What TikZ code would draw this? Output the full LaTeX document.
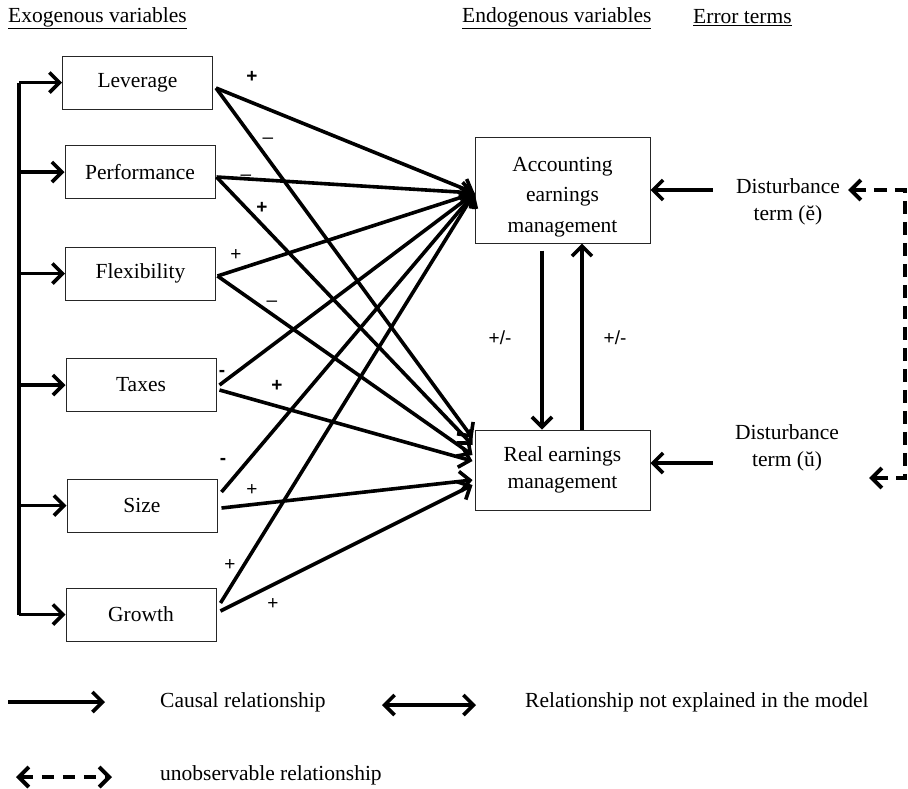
\documentclass[tikz,border=0pt]{standalone}
\usepackage{fontspec}
\setmainfont{Liberation Serif}
\newfontfamily\signfont{Liberation Sans}
\usetikzlibrary{arrows.meta,calc}
\begin{document}
\begin{tikzpicture}[x=1pt,y=-1pt,
  box/.style={draw=black!85,line width=1pt,minimum width=150pt,minimum height=53pt,inner sep=0pt,font=\fontsize{21.5}{27}\selectfont},
  ebox/.style={draw=black!85,line width=1pt,minimum width=175pt,inner sep=0pt,align=center},
  txt/.style={font=\fontsize{21.5}{27}\selectfont,inner sep=0pt,align=center},
  sgn/.style={font=\signfont\fontsize{19}{19}\selectfont,inner sep=0pt},
  tipb/.tip={Straight Barb[length=10pt,width=20pt]},
  conn/.style={line width=3.6pt,-tipb},
  plain/.style={line width=3.6pt},
  dconn/.style={line width=4pt,dash pattern=on 13pt off 8pt,tipb-tipb},
  dbl/.style={line width=3.6pt,tipb-tipb}
]
\useasboundingbox (0,0) rectangle (908,788);

% headers
\node[txt,anchor=west] (h1) at (8,18) {\underline{Exogenous variables}};
\node[txt,anchor=west] (h2) at (462,18) {\underline{Endogenous variables}};
\node[txt,anchor=west] (h3) at (693,18) {\underline{Error terms}};

% exogenous boxes
\node[box] (lev)  at (137.5,82.5) {Leverage};
\node[box] (perf) at (140,172) {Performance};
\node[box] (flex) at (140.5,273.5) {Flexibility};
\node[box] (tax)  at (141,385) {Taxes};
\node[box] (size) at (142,505.5) {Size};
\node[box] (gro)  at (141,614.5) {Growth};

% endogenous boxes
\node[ebox,minimum height=106pt,font=\fontsize{21.5}{30.5}\selectfont] (acc) at (562.5,190) {\rule{0pt}{28pt}Accounting\\earnings\\management};
\node[ebox,minimum height=80pt,font=\fontsize{21.5}{27.5}\selectfont] (real) at (562.5,470) {Real earnings\\management};

% error terms
\node[txt] (de) at (788,202) {Disturbance\\term (ĕ)};
\node[txt] (du) at (787,448) {Disturbance\\term (ŭ)};

% bus on the left
\coordinate (bus) at (19,0);
\draw[plain] (bus |- lev.west) -- (bus |- gro.west);
\foreach \n in {lev,perf,flex,tax,size,gro}{
  \draw[conn] (bus |- \n.west) -- (\n.west);
}

% causal paths to accounting earnings management
\draw[conn] ($(lev.east)+(3,5.5)$)  -- ($(acc.west)+(0,3)$);
\draw[conn] ($(perf.east)+(1,5)$)   -- ($(acc.west)+(0,3)$);
\draw[conn] ($(flex.east)+(1.5,2.5)$) -- ($(acc.west)+(0,3)$);
\draw[conn] ($(tax.east)+(3,0)$)    -- ($(acc.west)+(0,3)$);
\draw[conn] ($(size.east)+(4,-13.5)$) -- ($(acc.west)+(0,3)$);
\draw[conn] ($(gro.east)+(4,-11.5)$) -- ($(acc.west)+(0,3)$);

% causal paths to real earnings management
\draw[conn] ($(lev.east)+(3,5.5)$)  -- ($(real.west)+(-2,-32)$);
\draw[conn] ($(perf.east)+(1,5)$)   -- ($(real.west)+(-2,-25)$);
\draw[conn] ($(flex.east)+(1.5,2.5)$) -- ($(real.west)+(-2,-15)$);
\draw[conn] ($(tax.east)+(3,5)$)    -- ($(real.west)+(-2,-9)$);
\draw[conn] ($(size.east)+(4,2.5)$) -- ($(real.west)+(-2,10)$);
\draw[conn] ($(gro.east)+(4,-3.5)$) -- ($(real.west)+(-2,15)$);

% signs
\node[sgn] (s1)  at (252,77)  {\textbf{+}};
\node[sgn] (s2)  at (268,141) {–};
\node[sgn] (s3)  at (246,178) {–};
\node[sgn] (s4)  at (262,208) {\textbf{+}};
\node[sgn] (s5)  at (236,255) {+};
\node[sgn] (s6)  at (272,304) {–};
\node[sgn] (s7)  at (222,373) {\textbf{-}};
\node[sgn] (s8)  at (277,386) {\textbf{+}};
\node[sgn] (s9)  at (223,461) {\textbf{-}};
\node[sgn] (s10) at (252,490) {+};
\node[sgn] (s11) at (230,565) {+};
\node[sgn] (s12) at (273,604) {+};

% reciprocal paths
\draw[conn] ($(acc.south)+(-20.5,7)$) -- ($(real.north)+(-20.5,0)$);
\draw[conn] ($(real.north)+(19.5,0)$) -- ($(acc.south)+(19.5,0)$);
\node[sgn] (pm1) at (500,338) {+/-};
\node[sgn] (pm2) at (615,338) {+/-};

% disturbance arrows
\draw[conn] ($(acc.east)+(62,0)$) -- (acc.east);
\draw[conn] ($(real.east)+(62,-7)$) -- ($(real.east)+(0,-7)$);

% unobservable relationship
\coordinate (dt) at (848,190);
\coordinate (dc1) at (905,190);
\coordinate (dc2) at (905,478);
\coordinate (db) at (869,478);
\draw[dconn] (dt) -- (dc1) -- (dc2) -- (db);

% legend
\coordinate (la1) at (8,702);
\coordinate (la2) at (105,702);
\draw[conn] (la1) -- (la2);
\node[txt,anchor=west] (l1) at (160,702) {Causal relationship};
\coordinate (lb1) at (382,705);
\coordinate (lb2) at (476,705);
\draw[dbl] (lb1) -- (lb2);
\node[txt,anchor=west] (l2) at (525,702) {Relationship not explained in the model};
\coordinate (lc1) at (16,777);
\coordinate (lc2) at (112,777);
\draw[line width=4pt,dash pattern=on 12pt off 9pt,tipb-tipb] (lc1) -- (lc2);
\node[txt,anchor=west] (l3) at (160,775) {unobservable relationship};
\end{tikzpicture}
\end{document}
